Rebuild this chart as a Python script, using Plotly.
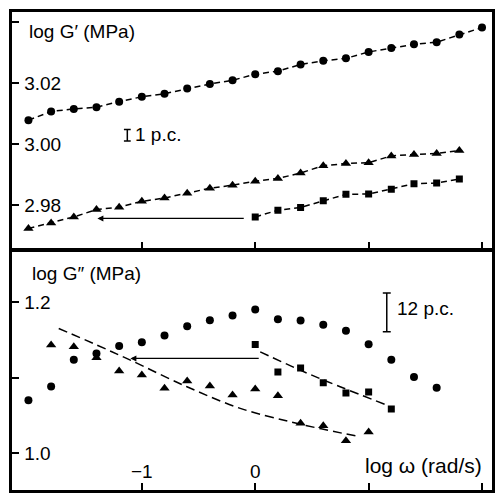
import plotly.graph_objects as go

# ---------------- data (log G' panel) ----------------
x_gp_circle = [-2.0, -1.8, -1.6, -1.4, -1.2, -1.0, -0.8, -0.6, -0.4, -0.2, 0.0,
               0.2, 0.4, 0.6, 0.8, 1.0, 1.2, 1.4, 1.6, 1.8, 2.0]
gp_circle = [3.0079, 3.0108, 3.0116, 3.0122, 3.0140, 3.0156, 3.0166, 3.0183, 3.0198, 3.0210, 3.0230,
             3.0240, 3.0262, 3.0274, 3.0282, 3.0303, 3.0316, 3.0328, 3.0335, 3.0360, 3.0383]

x_gp_triangle = [-2.0, -1.8, -1.6, -1.4, -1.2, -1.0, -0.8, -0.6, -0.4, -0.2,
                 0.0, 0.2, 0.4, 0.6, 0.8, 1.0, 1.2, 1.4, 1.6, 1.8]
gp_triangle = [2.9724, 2.9742, 2.9762, 2.9786, 2.9794, 2.9813, 2.9824, 2.9840, 2.9856, 2.9866,
               2.9879, 2.9888, 2.9906, 2.9930, 2.9937, 2.9940, 2.9962, 2.9967, 2.9970, 2.9980]

x_gp_square = [0.0, 0.2, 0.4, 0.6, 0.8, 1.0, 1.2, 1.4, 1.6, 1.8]
gp_square = [2.9762, 2.9784, 2.9793, 2.9815, 2.9836, 2.9837, 2.9853, 2.9871, 2.9873, 2.9886]

# ---------------- data (log G'' panel) ----------------
x_gpp_circle = [-2.0, -1.8, -1.6, -1.4, -1.2, -1.0, -0.8, -0.6, -0.4, -0.2,
                0.0, 0.2, 0.4, 0.6, 0.8, 1.0, 1.2, 1.4, 1.6]
gpp_circle = [1.0701, 1.0886, 1.1237, 1.1322, 1.1419, 1.1471, 1.1560, 1.1683, 1.1762, 1.1824,
              1.1904, 1.1775, 1.1758, 1.1700, 1.1621, 1.1445, 1.1237, 1.1009, 1.0867]

x_gpp_triangle = [-1.8, -1.6, -1.4, -1.2, -1.0, -0.8, -0.6, -0.4, -0.2,
                  0.0, 0.2, 0.4, 0.6, 0.8, 1.0]
gpp_triangle = [1.1432, 1.1409, 1.1264, 1.1088, 1.1035, 1.0860, 1.0956, 1.0890, 1.0771,
                1.0850, 1.0762, 1.0397, 1.0365, 1.0167, 1.0282]

x_gpp_square = [0.0, 0.2, 0.4, 0.6, 0.8, 1.0, 1.2]
gpp_square = [1.1441, 1.1075, 1.1128, 1.0934, 1.0797, 1.0811, 1.0586]

# fitted (dashed) curves in the G'' panel
x_fit_triangle = [-1.733, -1.395, -1.101, -0.602, -0.132, 0.308, 0.632, 0.925]
fit_triangle = [1.1652, 1.1432, 1.1233, 1.0881, 1.0595, 1.0418, 1.0308, 1.0220]
x_fit_square = [0.044, 0.396, 0.749, 1.145]
fit_square = [1.1343, 1.1101, 1.0881, 1.0648]

# shift arrows (tail -> head), log omega
arrow_top_x = [-0.088, -1.392]
arrow_top_y = 2.9757
arrow_bot_x = [0.044, -1.101]
arrow_bot_y = 1.1256

# axis ticks
x_tickvals = [-2, -1, 0, 1, 2]
x_ticktext = ["", "\u22121", "0", "", ""]
y1_tickvals = [2.98, 3.00, 3.02, 3.04]
y1_ticktext = ["2.98", "3.00", "3.02", ""]
y2_tickvals = [1.0, 1.1, 1.2]
y2_ticktext = ["1.0", "", "1.2"]

FONT = "Liberation Sans, Arial, sans-serif"
BLACK = "black"

fig = go.Figure()

dash_top = "6px,4px"
fig.add_trace(go.Scatter(x=x_gp_circle, y=gp_circle, mode="lines+markers",
                         line=dict(color=BLACK, width=1.5, dash=dash_top),
                         marker=dict(symbol="circle", size=8, color=BLACK),
                         xaxis="x", yaxis="y", showlegend=False))
fig.add_trace(go.Scatter(x=x_gp_triangle, y=gp_triangle, mode="lines+markers",
                         line=dict(color=BLACK, width=1.5, dash=dash_top),
                         marker=dict(symbol="triangle-up", size=9, color=BLACK),
                         xaxis="x", yaxis="y", showlegend=False))
fig.add_trace(go.Scatter(x=x_gp_square, y=gp_square, mode="lines+markers",
                         line=dict(color=BLACK, width=1.5, dash=dash_top),
                         marker=dict(symbol="square", size=7, color=BLACK),
                         xaxis="x", yaxis="y", showlegend=False))

fig.add_trace(go.Scatter(x=x_gpp_circle, y=gpp_circle, mode="markers",
                         marker=dict(symbol="circle", size=8, color=BLACK),
                         xaxis="x2", yaxis="y2", showlegend=False))
fig.add_trace(go.Scatter(x=x_gpp_triangle, y=gpp_triangle, mode="markers",
                         marker=dict(symbol="triangle-up", size=9, color=BLACK),
                         xaxis="x2", yaxis="y2", showlegend=False))
fig.add_trace(go.Scatter(x=x_gpp_square, y=gpp_square, mode="markers",
                         marker=dict(symbol="square", size=7, color=BLACK),
                         xaxis="x2", yaxis="y2", showlegend=False))
dash_bot = "9px,5px"
fig.add_trace(go.Scatter(x=x_fit_triangle, y=fit_triangle, mode="lines",
                         line=dict(color=BLACK, width=1.5, dash=dash_bot, shape="spline"),
                         xaxis="x2", yaxis="y2", showlegend=False))
fig.add_trace(go.Scatter(x=x_fit_square, y=fit_square, mode="lines",
                         line=dict(color=BLACK, width=1.5, dash=dash_bot, shape="spline"),
                         xaxis="x2", yaxis="y2", showlegend=False))

axis_common = dict(showline=True, mirror=True, linewidth=3, linecolor=BLACK,
                   ticks="inside", ticklen=7, tickwidth=1.5, tickcolor=BLACK,
                   showgrid=False, zeroline=False, automargin=False,
                   tickfont=dict(family=FONT, size=19, color=BLACK))

xr = [-2.145, 2.088]
fig.update_layout(
    width=497, height=493,
    margin=dict(l=11.5, r=5, t=11.5, b=3, pad=0, autoexpand=False),
    paper_bgcolor="white", plot_bgcolor="white",
    font=dict(family=FONT, size=19, color=BLACK),
    hovermode=False,
    xaxis=dict(domain=[0, 1], range=xr, anchor="y", tickvals=x_tickvals,
               showticklabels=False, **axis_common),
    yaxis=dict(domain=[0.5037, 1], range=[2.9656, 3.0434], anchor="x",
               tickvals=y1_tickvals, ticktext=y1_ticktext,
               ticklabelposition="inside", ticklabelstandoff=6, **axis_common),
    xaxis2=dict(domain=[0, 1], range=xr, anchor="y2", tickvals=x_tickvals,
                ticktext=x_ticktext, ticklabelposition="inside",
                ticklabelstandoff=2, **axis_common),
    yaxis2=dict(domain=[0, 0.4995], range=[0.9515, 1.2674], anchor="x2",
                tickvals=y2_tickvals, ticktext=y2_ticktext,
                ticklabelposition="inside", ticklabelstandoff=6, **axis_common),
)

annotations = [
    dict(text="log G\u2032 (MPa)", x=-2.009, y=3.0371, xref="x", yref="y",
         xanchor="left", yanchor="middle", showarrow=False),
    dict(text="1 p.c.", x=-1.075, y=3.0031, xref="x", yref="y",
         xanchor="left", yanchor="middle", showarrow=False, font=dict(size=19)),
    dict(text="log G\u2033 (MPa)", x=-1.982, y=1.2383, xref="x2", yref="y2",
         xanchor="left", yanchor="middle", showarrow=False),
    dict(text="12 p.c.", x=1.233, y=1.1921, xref="x2", yref="y2",
         xanchor="left", yanchor="middle", showarrow=False),
    dict(text="log \u03c9 (rad/s)", x=0.951, y=0.984, xref="x2", yref="y2",
         xanchor="left", yanchor="middle", showarrow=False, font=dict(size=21)),
    dict(text="", x=arrow_top_x[1], y=arrow_top_y, ax=arrow_top_x[0], ay=arrow_top_y,
         xref="x", yref="y", axref="x", ayref="y", showarrow=True,
         arrowhead=2, arrowsize=1, arrowwidth=1.2, arrowcolor=BLACK),
    dict(text="", x=arrow_bot_x[1], y=arrow_bot_y, ax=arrow_bot_x[0], ay=arrow_bot_y,
         xref="x2", yref="y2", axref="x2", ayref="y2", showarrow=True,
         arrowhead=2, arrowsize=1, arrowwidth=1.2, arrowcolor=BLACK),
]
fig.update_layout(annotations=annotations)

# error-bar scale glyphs ("1 p.c." and "12 p.c.")
def ibar(xc, y0, y1, xref, yref, half):
    return [
        dict(type="line", x0=xc, x1=xc, y0=y0, y1=y1, xref=xref, yref=yref,
             line=dict(color=BLACK, width=1.5)),
        dict(type="line", x0=xc - half, x1=xc + half, y0=y0, y1=y0, xref=xref, yref=yref,
             line=dict(color=BLACK, width=1.5)),
        dict(type="line", x0=xc - half, x1=xc + half, y0=y1, y1=y1, xref=xref, yref=yref,
             line=dict(color=BLACK, width=1.5)),
    ]

shapes = ibar(-1.128, 3.0011, 3.0049, "x", "y", 0.03) + ibar(1.160, 1.1608, 1.2123, "x2", "y2", 0.035)
fig.update_layout(shapes=shapes)

# remove the browser's default page margin so the 497x493 figure fills the window exactly
fig.write_html("out.html", config={"displayModeBar": False},
               post_script="document.body.style.margin='0';document.body.style.padding='0';")
